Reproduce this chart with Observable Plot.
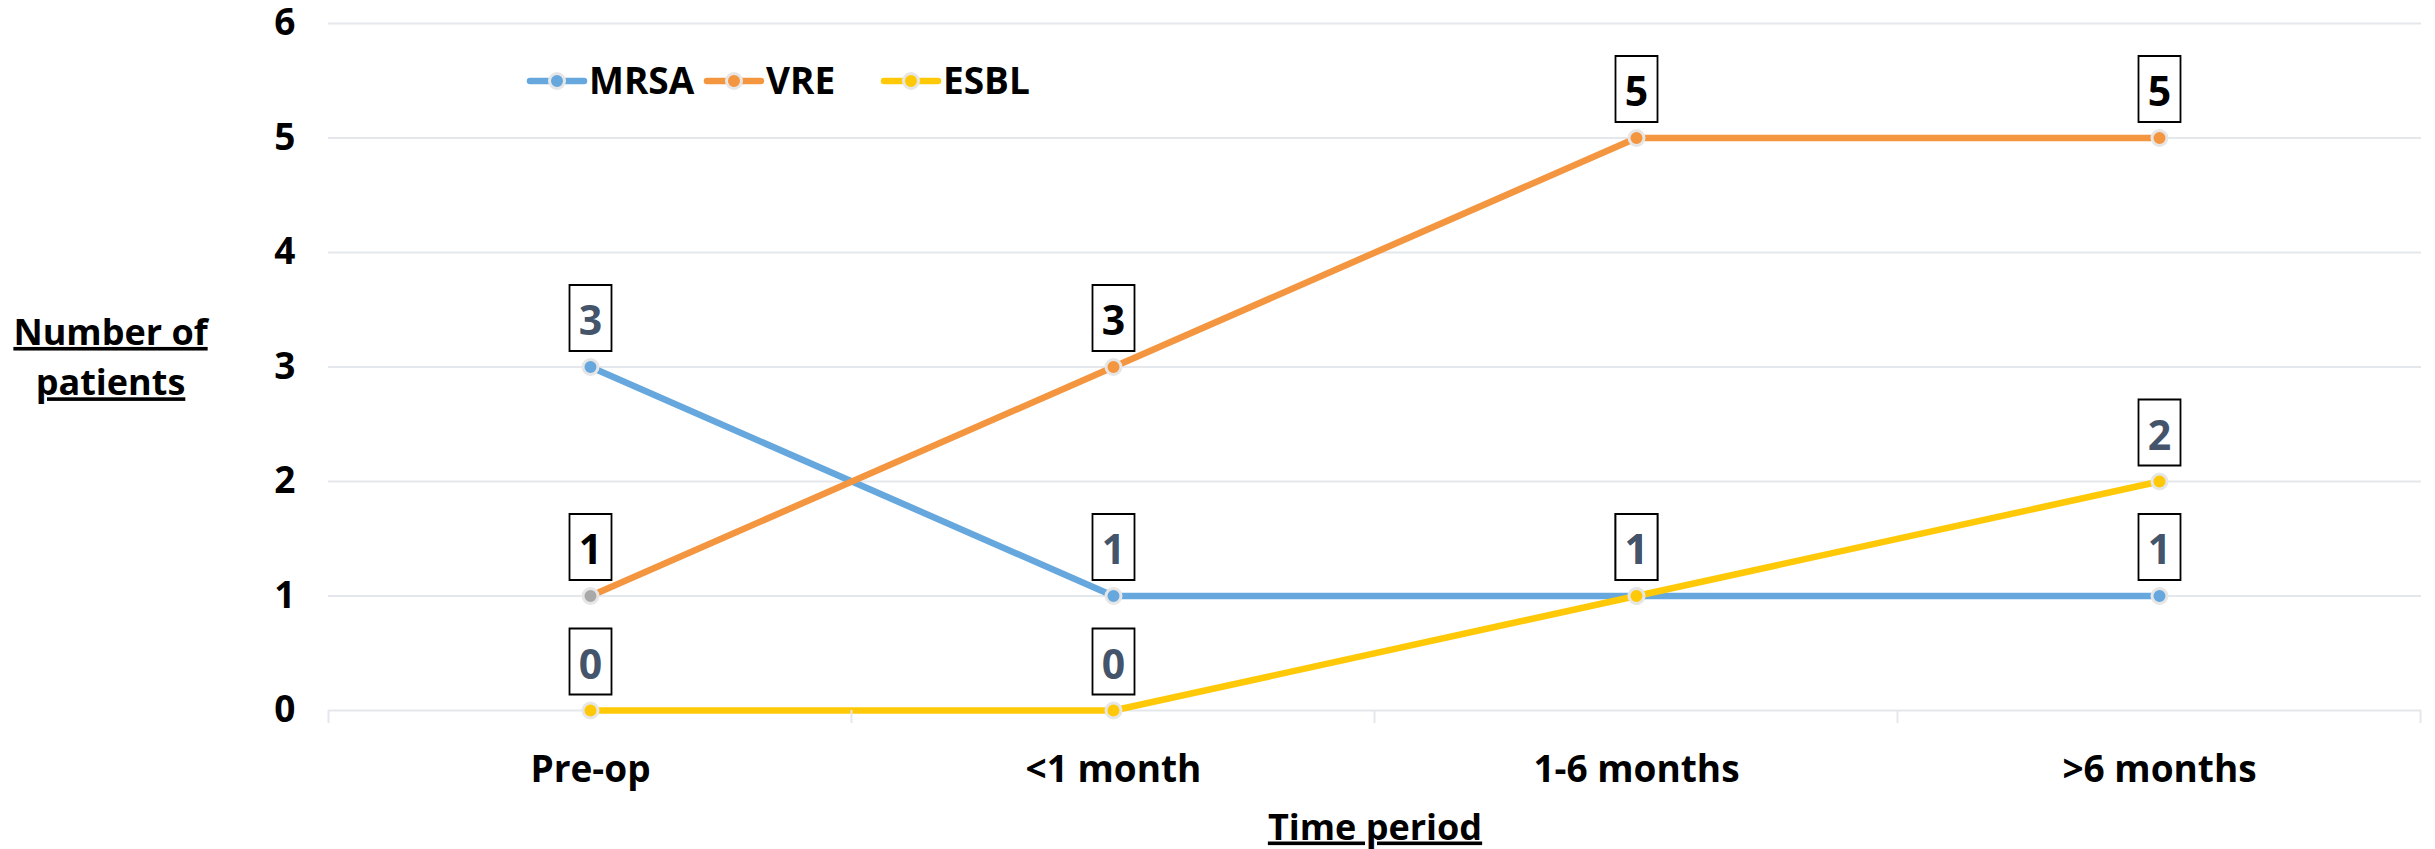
<!DOCTYPE html>
<html>
<head>
<meta charset="utf-8">
<script src="https://cdn.jsdelivr.net/npm/d3@7"></script>
<script src="https://cdn.jsdelivr.net/npm/@observablehq/plot@0.6"></script>
<style>
  html, body { margin: 0; padding: 0; background: #fff; }
</style>
</head>
<body>
<div id="chart"></div>
<script>
// Patients colonised with resistant organisms, by time period
const categories = ["Pre-op", "<1 month", "1-6 months", ">6 months"];
const seriesNames = ["MRSA", "VRE", "ESBL"];
const mrsa = [3, 1, 1, 1];
const vre = [1, 3, 5, 5];
const esbl = [0, 0, 1, 2];
const yTicks = [0, 1, 2, 3, 4, 5, 6];

const seriesValues = [mrsa, vre, esbl];
const colors = {MRSA: "#66A8DD", VRE: "#F4953F", ESBL: "#FFC907"};
const labelColors = {MRSA: "#44546A", VRE: "#000000", ESBL: "#44546A"};
const firstVreMarker = "#A9A9A9";
const markerRing = "#E6E6E6";
const gridColor = "#E4E7EB";
const FONT = "'Open Sans', 'Noto Sans', sans-serif";

const rows = [];
seriesNames.forEach((s, si) =>
  seriesValues[si].forEach((v, i) => rows.push({series: s, period: categories[i], value: v, index: i}))
);

// rectangular frame drawn around each value label
const boxSymbol = {
  draw(ctx) {
    ctx.moveTo(-21, -33);
    ctx.lineTo(21, -33);
    ctx.lineTo(21, 33);
    ctx.lineTo(-21, 33);
    ctx.closePath();
  }
};

const marks = [
  Plot.ruleY(yTicks, {stroke: gridColor, strokeWidth: 2}),
  Plot.axisY({ticks: yTicks, tickFormat: d3.format("d"), tickSize: 0, tickPadding: 33, fontSize: 37, label: null}),
  Plot.axisX({tickSize: 0, tickPadding: 45, fontSize: 37, label: null})
];

seriesNames.forEach(s => {
  const d = rows.filter(r => r.series === s);
  marks.push(Plot.line(d, {x: "period", y: "value", stroke: colors[s], strokeWidth: 6.5}));
  marks.push(Plot.dot(d, {
    x: "period", y: "value", r: 7.5,
    fill: r => (s === "VRE" && r.index === 0 ? firstVreMarker : colors[s]),
    stroke: markerRing, strokeWidth: 3
  }));
});

marks.push(Plot.dot(rows, {
  x: "period", y: "value", symbol: boxSymbol, dy: -49,
  fill: "white", stroke: "black", strokeWidth: 1.8
}));
marks.push(Plot.text(rows, {
  x: "period", y: "value", text: d => String(d.value), dy: -45,
  fontSize: 41, fill: d => labelColors[d.series]
}));

marks.push(Plot.text(["Number of\npatients"], {
  text: d => d, frameAnchor: "left", dx: -218, dy: -13,
  fontSize: 36, lineHeight: 1.4, textAnchor: "middle", fill: "#000"
}));
marks.push(Plot.text(["Time period"], {
  text: d => d, frameAnchor: "bottom", dy: 129, fontSize: 36, fill: "#000"
}));

const chart = Plot.plot({
  width: 2435,
  height: 849,
  marginTop: 23,
  marginRight: 14,
  marginBottom: 139,
  marginLeft: 328,
  x: {type: "point", domain: categories, padding: 0.5},
  y: {domain: [0, 6]},
  color: {type: "identity"},
  style: {fontFamily: FONT, fontWeight: "bold", color: "#000", background: "#fff"},
  marks
});

document.getElementById("chart").append(chart);

const svg = d3.select(chart);

// underline the axis titles
svg.selectAll("text")
  .filter(function () {
    const t = this.textContent;
    return t === "Time period" || t.startsWith("Number of");
  })
  .style("text-decoration", "underline");

// small category separators below the baseline
const xs = chart.scale("x");
const ys = chart.scale("y");
const pos = categories.map(c => xs.apply(c));
const step = pos[1] - pos[0];
const bounds = [pos[0] - step / 2, ...pos.map(p => p + step / 2)];
const y0 = ys.apply(0);
svg.append("g")
  .selectAll("line")
  .data(bounds)
  .join("line")
  .attr("x1", d => d).attr("x2", d => d)
  .attr("y1", y0).attr("y2", y0 + 13)
  .attr("stroke", gridColor).attr("stroke-width", 2);

// legend
const legend = svg.append("g").attr("transform", "translate(530,81)");
seriesNames.forEach((s, i) => {
  const g = legend.append("g").attr("transform", `translate(${i * 177},0)`);
  g.append("line").attr("x1", 0).attr("x2", 54).attr("y1", 0).attr("y2", 0)
    .attr("stroke", colors[s]).attr("stroke-width", 6.5).attr("stroke-linecap", "round");
  g.append("circle").attr("cx", 27).attr("cy", 0).attr("r", 7.5)
    .attr("fill", colors[s]).attr("stroke", markerRing).attr("stroke-width", 3);
  g.append("text").attr("x", 59).attr("y", 0).attr("dy", "0.36em")
    .attr("text-anchor", "start")
    .attr("font-size", 37).attr("fill", "#000").text(s);
});
</script>
</body>
</html>
